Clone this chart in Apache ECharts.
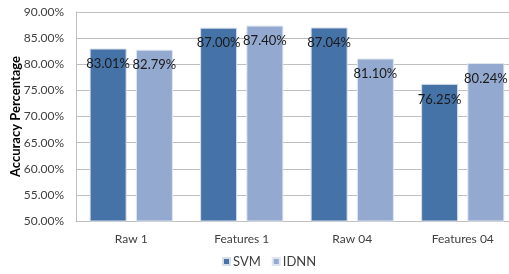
<!DOCTYPE html>
<html>
<head>
<meta charset="utf-8">
<script src="https://cdn.jsdelivr.net/npm/echarts@6/dist/echarts.min.js"></script>
<style>
  html, body { margin: 0; padding: 0; background: #fff; }
  #chart { width: 509px; height: 274px; }
</style>
</head>
<body>
<div id="chart"></div>
<script>
var categories = ["Raw 1", "Features 1", "Raw 04", "Features 04"];
var svmValues = [83.01, 87.00, 87.04, 76.25];
var idnnValues = [82.79, 87.40, 81.10, 80.24];
var seriesNames = ["SVM", "IDNN"];

var chart = echarts.init(document.getElementById("chart"));

var labelStyle = {
  show: true,
  position: "insideTop",
  distance: 9,
  color: "#1a1a1a",
  fontFamily: "Lato",
  fontSize: 13,
  formatter: function (p) { return p.value.toFixed(2) + "%"; }
};

var option = {
  animation: false,
  textStyle: { fontFamily: "Lato" },
  grid: { left: 76, right: -9, top: 12, bottom: 53, containLabel: false, outerBoundsMode: "none" },
  legend: {
    data: seriesNames,
    bottom: 1,
    left: 217,
    itemWidth: 7,
    itemHeight: 7,
    itemGap: 11,
    icon: "rect",
    textStyle: { fontSize: 13, color: "#404040", fontFamily: "Lato", padding: [0, 0, 0, -2] }
  },
  xAxis: {
    type: "category",
    data: categories,
    axisLine: { lineStyle: { color: "#bfbfbf" } },
    axisTick: { show: false },
    axisLabel: { color: "#404040", fontSize: 12, margin: 12 }
  },
  yAxis: {
    type: "value",
    min: 50,
    max: 90,
    interval: 5,
    name: "Accuracy Percentage",
    nameLocation: "middle",
    nameGap: 54,
    nameMoveOverlap: false,
    nameTextStyle: { fontWeight: "bold", fontSize: 13, color: "#000" },
    axisLine: { show: true, lineStyle: { color: "#bfbfbf" } },
    axisTick: { show: false },
    axisLabel: {
      color: "#404040",
      fontSize: 12,
      margin: 12,
      formatter: function (v) { return v.toFixed(2) + "%"; }
    },
    splitLine: { lineStyle: { color: "#bfbfbf" } }
  },
  series: [
    {
      name: "SVM",
      type: "bar",
      data: svmValues,
      barWidth: 37,
      barGap: "25%",
      itemStyle: { color: "#4572a7", borderColor: "#d6dfea", borderWidth: 1 },
      label: labelStyle
    },
    {
      name: "IDNN",
      type: "bar",
      data: idnnValues,
      barWidth: 37,
      itemStyle: { color: "#93a9cf", borderColor: "#dfe6f0", borderWidth: 1 },
      label: labelStyle
    }
  ]
};

chart.setOption(option);
</script>
</body>
</html>
